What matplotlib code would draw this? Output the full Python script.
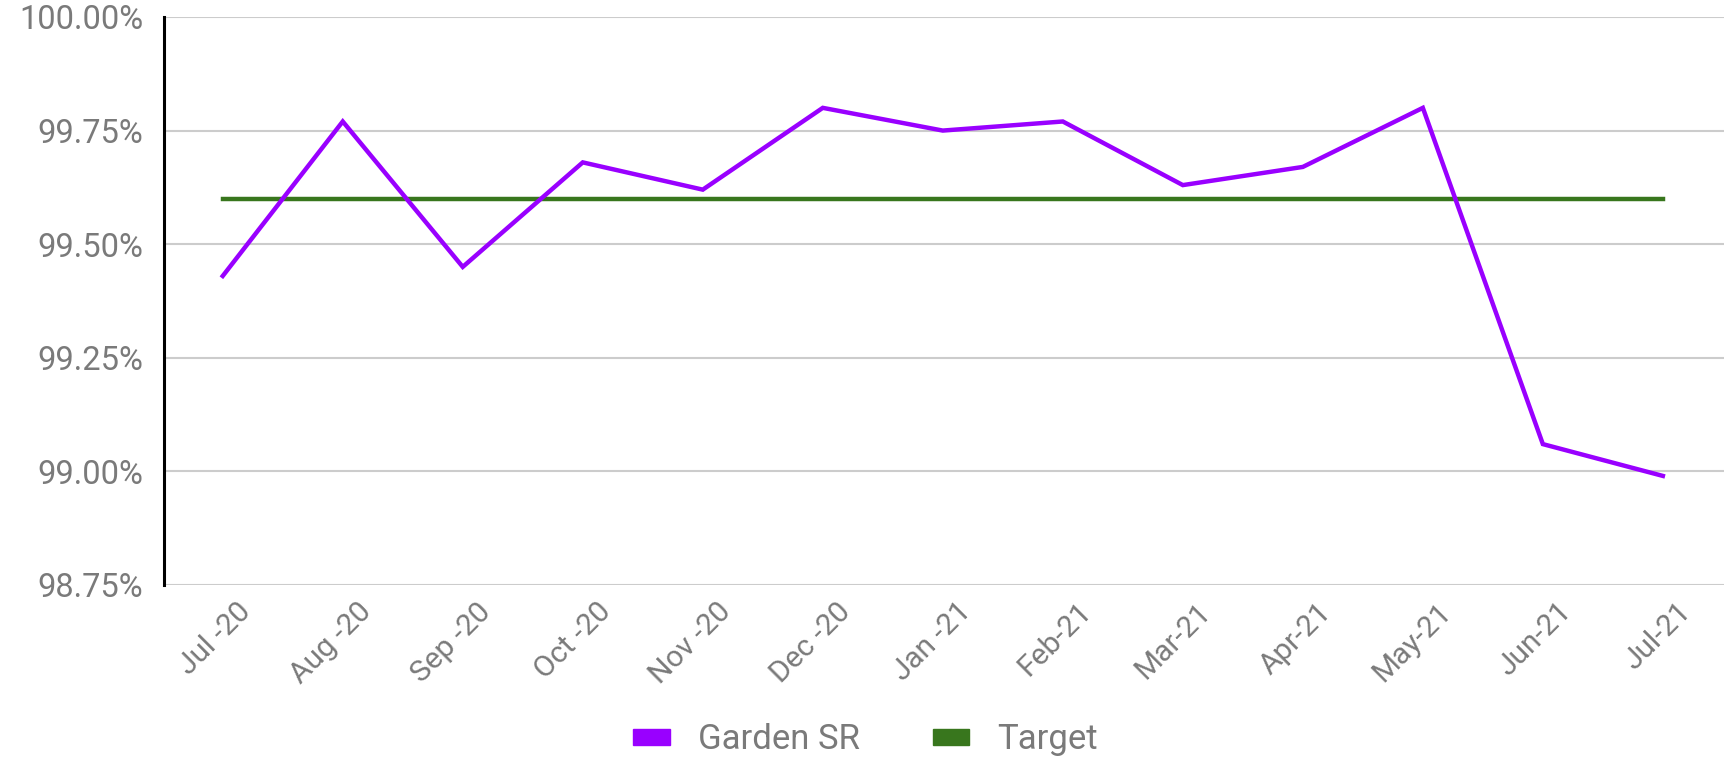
import matplotlib.pyplot as plt
from matplotlib.patches import Patch
from matplotlib.ticker import FuncFormatter
from matplotlib.transforms import ScaledTranslation

months = ["Jul -20", "Aug -20", "Sep -20", "Oct -20", "Nov -20", "Dec -20",
          "Jan -21", "Feb-21", "Mar-21", "Apr-21", "May-21", "Jun-21", "Jul-21"]
garden_sr = [99.43, 99.77, 99.45, 99.68, 99.62, 99.80, 99.75, 99.77,
             99.63, 99.67, 99.80, 99.06, 98.99]
target = [99.60] * len(months)
y_ticks = [98.75, 99.00, 99.25, 99.50, 99.75, 100.00]

purple = "#9900ff"
green = "#38761d"
grey_text = "#7a7a7a"

plt.rcParams['font.family'] = ['Roboto', 'DejaVu Sans']

fig = plt.figure(figsize=(17.31, 7.61), dpi=100)
ax = fig.add_axes([0.0947, 0.2313, 0.9013, 0.7464])

x = list(range(len(months)))
ax.plot(x, garden_sr, color=purple, lw=3.2, solid_joinstyle='miter', zorder=3)
ax.plot(x, target, color=green, lw=3.2, zorder=2)

ax.set_xlim(-0.49, 12.51)
ax.set_ylim(98.75, 100.0)
ax.set_yticks(y_ticks)
ax.yaxis.set_major_formatter(FuncFormatter(lambda v, p: f"{v:.2f}%"))
ax.grid(axis='y', color='#cccccc', lw=1.5, zorder=0)
ax.set_xticks(x)
ax.set_xticklabels(months, rotation=45, ha='right', rotation_mode='anchor')

ax.tick_params(axis='y', length=0, pad=15, labelsize=23.5, labelcolor=grey_text)
ax.tick_params(axis='x', length=0, pad=9, labelsize=21.5, labelcolor=grey_text)
shift = ScaledTranslation(14 / 100, 0, fig.dpi_scale_trans)
for lab in ax.get_xticklabels():
    lab.set_transform(lab.get_transform() + shift)

for side in ['top', 'right', 'bottom']:
    ax.spines[side].set_visible(False)
ax.spines['left'].set_color('black')
ax.spines['left'].set_linewidth(2.2)

handles = [Patch(color=purple), Patch(color=green)]
fig.legend(handles, ["Garden SR", "Target"], loc='center', bbox_to_anchor=(0.5, 0.028),
           ncol=2, frameon=False, fontsize=25, labelcolor=grey_text,
           handlelength=1.05, handleheight=0.35, handletextpad=0.8, columnspacing=2.1)

fig.savefig("out.png", dpi=100)
